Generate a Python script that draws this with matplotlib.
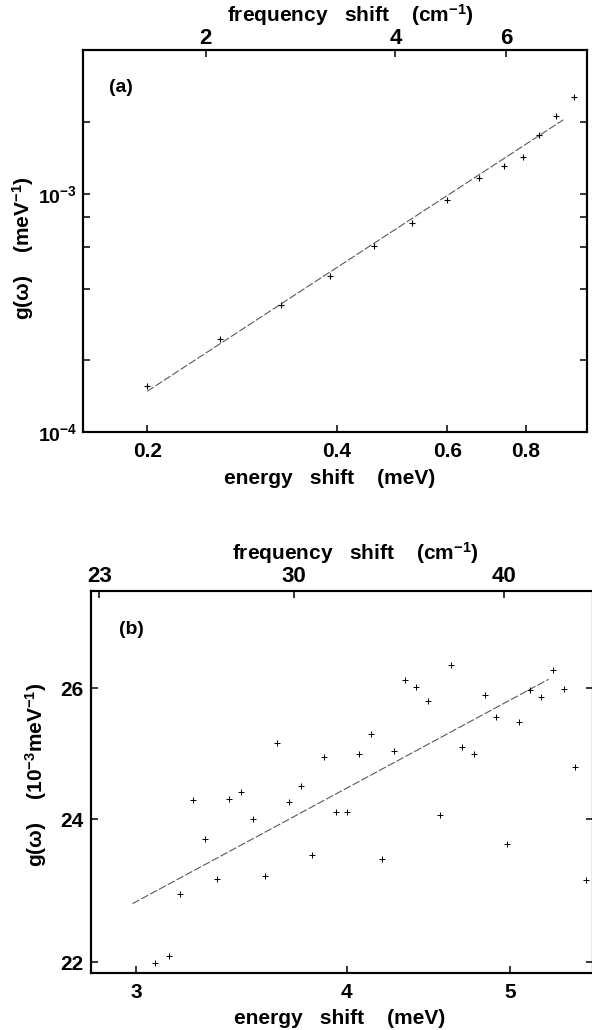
import matplotlib
matplotlib.use("Agg")
import matplotlib.pyplot as plt
from matplotlib.ticker import FixedLocator, FixedFormatter, NullLocator

plt.rcParams['font.family'] = ['Liberation Sans', 'DejaVu Sans']
plt.rcParams['font.weight'] = 'bold'
plt.rcParams['mathtext.fontset'] = 'custom'
plt.rcParams['mathtext.rm'] = 'Liberation Sans:bold'
plt.rcParams['mathtext.it'] = 'Liberation Sans:bold'
plt.rcParams['mathtext.bf'] = 'Liberation Sans:bold'
plt.rcParams['mathtext.default'] = 'rm'

MEV_TO_CM = 8.0655

# panel (a): energy shift (meV) vs g(omega) (meV^-1)
energy_a = [0.200, 0.261, 0.326, 0.391, 0.459, 0.528, 0.600, 0.674,
            0.738, 0.790, 0.840, 0.893, 0.952]
g_a = [1.57e-4, 2.45e-4, 3.40e-4, 4.52e-4, 6.03e-4, 7.51e-4, 9.38e-4,
       1.16e-3, 1.31e-3, 1.43e-3, 1.76e-3, 2.12e-3, 2.55e-3]
fit_a_x = [0.200, 0.917]
fit_a_y = [1.485e-4, 2.04e-3]

# panel (b): energy shift (meV) vs g(omega) (10^-3 meV^-1)
energy_b = [3.079, 3.136, 3.186, 3.242, 3.294, 3.348, 3.407, 3.463, 3.520,
            3.575, 3.637, 3.696, 3.755, 3.812, 3.875, 3.941, 4.002, 4.067,
            4.132, 4.195, 4.264, 4.329, 4.398, 4.469, 4.541, 4.610, 4.681,
            4.759, 4.833, 4.904, 4.980, 5.060, 5.139, 5.217, 5.301, 5.379,
            5.465, 5.547]
g_b = [21.99, 22.09, 22.94, 24.28, 23.72, 23.15, 24.30, 24.41, 24.00,
       23.19, 25.14, 24.25, 24.49, 23.49, 24.93, 24.11, 24.11, 24.98,
       25.29, 23.43, 25.02, 26.13, 26.02, 25.80, 24.06, 26.37, 25.08,
       24.97, 25.89, 25.55, 23.65, 25.47, 25.97, 25.86, 26.29, 25.98,
       24.78, 23.13]
fit_b_x = [2.985, 5.27]
fit_b_y = [22.80, 26.14]

W, H = 592, 1030
fig = plt.figure(figsize=(W / 100, H / 100), dpi=100)


def px_axes(l, t, r, b):
    return fig.add_axes([l / W, 1 - b / H, (r - l) / W, (b - t) / H])


def px_text(x, y, s, **kw):
    fig.text(x / W, 1 - y / H, s, ha='center', va='center', **kw)


def style(ax):
    for sp in ax.spines.values():
        sp.set_linewidth(1.5)
    ax.tick_params(which='both', direction='in', length=5, width=1.1,
                   labelsize=15)


# ---------- panel (a) ----------
axa = px_axes(82.7, 50, 587, 432.3)
axa.set_xscale('log')
axa.set_yscale('log')
axa.plot(fit_a_x, fit_a_y, color='0.35', lw=0.8, dashes=(7, 2))
axa.plot(energy_a, g_a, ls='none', marker='+', ms=4.5, mew=0.8, color='k')
axa.set_xlim(0.158, 1.0)
axa.set_ylim(1e-4, 4e-3)
axa.xaxis.set_major_locator(FixedLocator([0.2, 0.4, 0.6, 0.8]))
axa.xaxis.set_major_formatter(FixedFormatter(['0.2', '0.4', '0.6', '0.8']))
axa.xaxis.set_minor_locator(NullLocator())
axa.yaxis.set_major_locator(FixedLocator([1e-4, 1e-3]))
axa.yaxis.set_major_formatter(FixedFormatter(['$10^{-4}$', '$10^{-3}$']))
axa.yaxis.set_minor_locator(FixedLocator([2e-4, 4e-4, 6e-4, 8e-4, 2e-3]))
style(axa)
axa.tick_params(axis='y', which='both', left=True, right=True, pad=4,
                labelsize=14)
axa.tick_params(axis='x', which='both', top=False, pad=7)

topa = axa.twiny()
topa.set_xscale('log')
topa.set_xlim(0.158 * MEV_TO_CM, 1.0 * MEV_TO_CM)
topa.xaxis.set_major_locator(FixedLocator([2, 4, 6]))
topa.xaxis.set_major_formatter(FixedFormatter(['2', '4', '6']))
topa.xaxis.set_minor_locator(NullLocator())
style(topa)
topa.tick_params(axis='x', pad=1, labelsize=16)

px_text(121, 87, '(a)', fontsize=14)
px_text(350, 15, 'frequency   shift    (cm$^{-1}$)', fontsize=15)
px_text(330, 479, 'energy   shift    (meV)', fontsize=15)
px_text(23, 248, 'g(ω)    (meV$^{-1}$)', fontsize=15, rotation=90)

# ---------- panel (b) ----------
axb = px_axes(90.7, 590.7, 593, 972.7)
axb.set_xscale('log')
axb.set_yscale('log')
axb.plot(fit_b_x, fit_b_y, color='0.35', lw=0.8, dashes=(7, 2))
axb.plot(energy_b, g_b, ls='none', marker='+', ms=4, mew=0.7, color='k')
axb.set_xlim(2.819, 5.60)
axb.set_ylim(21.86, 27.59)
axb.xaxis.set_major_locator(FixedLocator([3, 4, 5]))
axb.xaxis.set_major_formatter(FixedFormatter(['3', '4', '5']))
axb.xaxis.set_minor_locator(NullLocator())
axb.yaxis.set_major_locator(FixedLocator([22, 24, 26]))
axb.yaxis.set_major_formatter(FixedFormatter(['22', '24', '26']))
axb.yaxis.set_minor_locator(NullLocator())
style(axb)
axb.tick_params(axis='y', left=True, right=True, pad=5)
axb.tick_params(axis='x', top=False, pad=7.5)

topb = axb.twiny()
topb.set_xscale('log')
topb.set_xlim(2.819 * MEV_TO_CM, 5.60 * MEV_TO_CM)
topb.xaxis.set_major_locator(FixedLocator([23, 30, 40]))
topb.xaxis.set_major_formatter(FixedFormatter(['23', '30', '40']))
topb.xaxis.set_minor_locator(NullLocator())
style(topb)
topb.tick_params(axis='x', pad=2.5, labelsize=16)

px_text(131, 630, '(b)', fontsize=14)
px_text(355, 553, 'frequency   shift    (cm$^{-1}$)', fontsize=15)
px_text(340, 1018, 'energy   shift    (meV)', fontsize=15)
px_text(36, 775, 'g(ω)    (10$^{-3}$meV$^{-1}$)', fontsize=15, rotation=90)

fig.savefig('out.png', dpi=100, facecolor='white')
